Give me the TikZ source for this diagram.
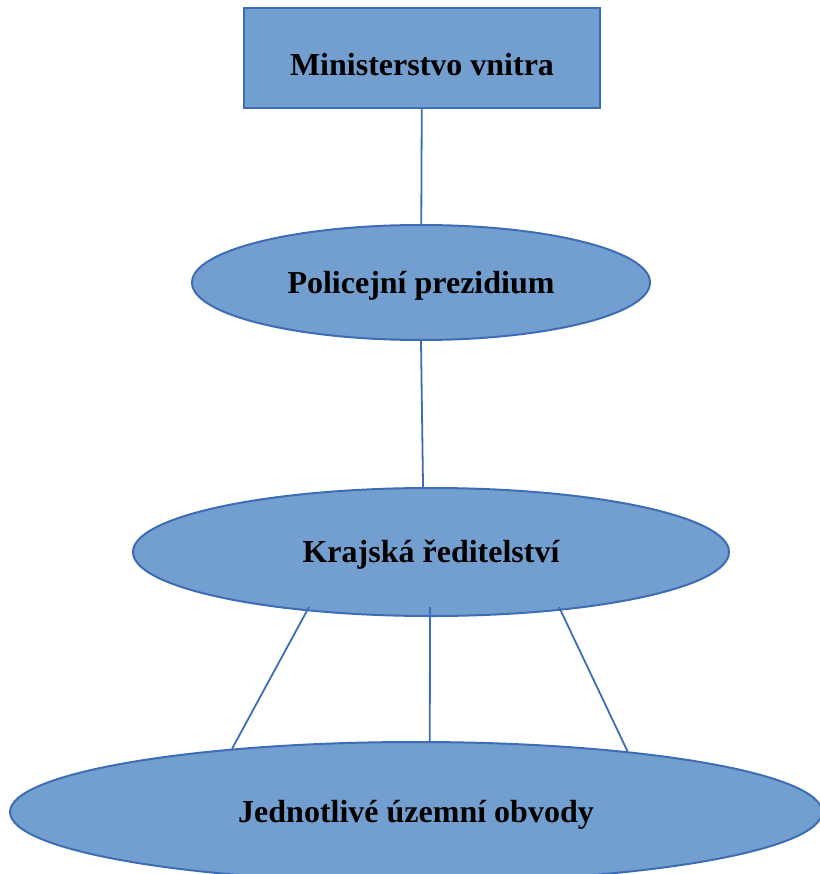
\documentclass[tikz,border=0pt]{standalone}
\usepackage{fontspec}
\setmainfont{Liberation Serif}
\usetikzlibrary{shapes,calc,positioning}
\definecolor{boxfill}{RGB}{114,159,207}
\definecolor{boxline}{RGB}{62,108,181}

\begin{document}
\begin{tikzpicture}[x=1pt,y=-1pt,
	org/.style={draw=boxline,fill=boxfill,line width=2pt,inner sep=0pt,text height=21pt,text depth=0pt,font=\fontsize{32}{38}\selectfont\bfseries},
	link/.style={boxline,line width=1.8pt}]
	\useasboundingbox (0,0) rectangle (819,874);
	\node[org,rectangle,minimum width=356pt,minimum height=100pt,text height=36pt] (mv) at (422,58) {Ministerstvo vnitra};
	\node[org,ellipse,minimum width=458pt,minimum height=115pt] (pp) at (421,282.5) {Policejní prezidium};
	\node[org,ellipse,minimum width=596pt,minimum height=128pt] (kr) at (431,552) {Krajská ředitelství};
	\node[org,ellipse,minimum width=812pt,minimum height=140pt] (jo) at (416,812) {Jednotlivé územní obvody};
	\draw[link] (mv) -- (pp);
	\draw[link] (pp.south) -- (kr.97);
	\foreach \idx/\dx/\ang in {1/-122/161, 2/-1/79, 3/128/16} {
		\coordinate (kr\idx) at ($(kr.center)+(\dx,55)$);
		\draw[link] (kr\idx) -- (jo.\ang);
	}
\end{tikzpicture}
\end{document}
